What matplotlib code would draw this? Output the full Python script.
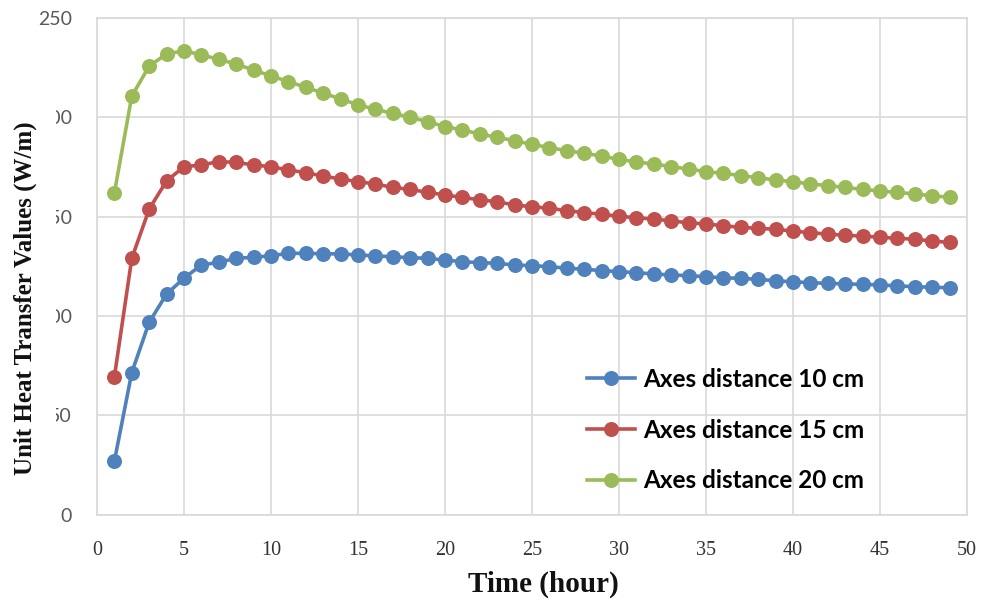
import matplotlib
matplotlib.use("Agg")
import matplotlib.pyplot as plt
from matplotlib.patches import Rectangle

hours = list(range(1, 50))
series_names = ["Axes distance 10 cm", "Axes distance 15 cm", "Axes distance 20 cm"]
blue_10cm = [26.9, 71.5, 96.8, 111, 119, 125.6, 127, 129, 129.5, 130.3, 131.5, 131.5, 131.3, 131.2,
             130.7, 130.2, 129.8, 129.3, 129, 128.1, 127.3, 126.8, 126.5, 125.6, 125.3, 124.8, 124,
             123.5, 122.8, 122.3, 121.8, 121.1, 120.6, 120.3, 119.7, 119.2, 118.9, 118.4, 117.7,
             117.2, 116.7, 116.4, 116.1, 115.9, 115.6, 115.1, 114.7, 114.4, 114.2]
red_15cm = [69.4, 129, 153.8, 168, 175.1, 176, 177.7, 177.3, 176, 175.1, 173.5, 172.1, 170.4, 168.9,
            167.6, 166.4, 164.7, 163.7, 162.2, 160.9, 159.7, 158.4, 157.5, 155.8, 155, 154.2, 153,
            152, 151.2, 150.2, 149.4, 148.8, 147.8, 146.9, 146.3, 145.4, 144.6, 144.1, 143.6, 142.7,
            141.9, 141.2, 140.6, 140.2, 139.6, 139.1, 138.6, 137.7, 137]
green_20cm = [162, 210.7, 225.8, 231.9, 233.5, 231.4, 229.2, 226.8, 223.8, 220.8, 218, 215.1, 212.2,
              209.2, 206.3, 204, 202, 200, 197.8, 195.3, 193.6, 191.6, 189.9, 188.2, 186.4, 184.7,
              183.2, 181.9, 180.5, 178.8, 177.5, 176.5, 175.1, 174, 172.6, 171.8, 170.6, 169.6,
              168.4, 167.6, 166.4, 165.6, 164.7, 163.7, 162.9, 162.2, 161.4, 160.5, 159.7]
x_ticks = [0, 5, 10, 15, 20, 25, 30, 35, 40, 45, 50]
y_ticks = [0, 50, 100, 150, 200, 250]
colors = ["#4F81BD", "#C0504D", "#9BBB59"]

W, H = 989, 604
fig = plt.figure(figsize=(W / 100, H / 100), dpi=100)
ax = fig.add_axes([97 / W, 1 - 514.5 / H, 870 / W, (514.5 - 18) / H])

for vals, name, c in zip([blue_10cm, red_15cm, green_20cm], series_names, colors):
    ax.plot(hours, vals, color=c, lw=2.6, marker="o", markersize=10.8,
            markeredgewidth=0, label=name, zorder=3)

ax.set_xlim(0, 50)
ax.set_ylim(0, 250)
ax.set_xticks(x_ticks)
ax.set_yticks(y_ticks)
ax.grid(True, color="#D9D9D9", lw=1.2)
ax.set_axisbelow(True)
for s in ax.spines.values():
    s.set_color("#D9D9D9")
    s.set_linewidth(1.2)
ax.tick_params(length=0)
ax.tick_params(axis="x", pad=19, labelsize=14.5, labelcolor="#333333")
ax.tick_params(axis="y", pad=18, labelsize=14, labelcolor="#595959")
for lab in ax.get_xticklabels():
    lab.set_fontfamily("Liberation Serif")
for lab in ax.get_yticklabels():
    lab.set_fontfamily("Lato")

ax.set_xlabel("Time (hour)", fontsize=21, fontweight="bold", family="Liberation Serif",
              color="#111111")
ax.xaxis.set_label_coords(0.513, -0.114)

# white strip behind the y label (covers first digits of tick labels as in the original)
fig.patches.append(Rectangle((0, 1 - 495 / H), 56 / W, (495 - 60) / H,
                             transform=fig.transFigure, facecolor="white",
                             edgecolor="none", zorder=5))
fig.text(25 / W, 1 - 298 / H, "Unit Heat Transfer Values (W/m)", rotation=90,
         ha="center", va="center", fontsize=18, fontweight="bold",
         family="Liberation Serif", color="#111111", zorder=6)

ax.legend(loc="center", bbox_to_anchor=(726 / W, 1 - 430 / H), bbox_transform=fig.transFigure,
          frameon=False, prop={"family": "Lato", "weight": "bold", "size": 17.5},
          handlelength=1.95, handletextpad=0.35, labelspacing=1.15, borderpad=0)

fig.savefig("out.png", dpi=100)
